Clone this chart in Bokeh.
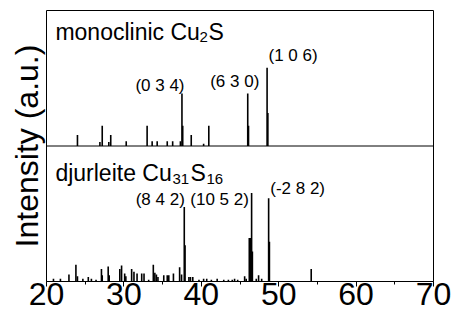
from bokeh.plotting import figure
from bokeh.models import Range1d, Span, ColumnDataSource, FixedTicker
from bokeh.embed import file_html
from bokeh.resources import INLINE
from bokeh.core.properties import value

# monoclinic Cu2S stick pattern (2theta, relative intensity)
mono_pos = [24.0, 26.9, 27.2, 28.05, 28.3, 30.3, 33.0, 33.65, 34.3, 35.6, 36.3,
            37.3, 37.5, 37.6, 38.7, 40.3, 40.97, 46.0, 46.1, 48.5, 48.6]
mono_int = [14, 5, 26, 5, 14, 6, 26, 6, 6, 6, 6,
            6, 67, 26, 14, 3, 26, 67, 26, 100, 42]

# djurleite Cu31S16 stick pattern
djur_pos = [20.9, 21.8, 22.9, 23.8, 24.0, 24.7, 25.4, 25.8, 26.4, 27.1, 27.2,
            27.97, 28.1, 29.47, 29.7, 30.1, 30.25, 31.0, 31.3, 31.7, 32.3, 32.6,
            33.2, 33.8, 34.0, 34.2, 34.4, 35.15, 35.6, 35.8, 36.4, 37.2, 37.45,
            37.8, 37.9, 38.4, 38.6, 38.9, 39.7, 40.3, 40.7, 41.3, 42.05, 42.9,
            43.5, 44.0, 44.3, 44.7, 45.6, 45.8, 46.2, 46.35, 46.5, 46.6, 47.1,
            47.4, 47.8, 48.7, 48.8, 54.2]
djur_int = [3, 3, 8, 19, 6, 3, 5, 3, 2, 14, 7,
            17, 7, 14, 18, 9, 6, 14, 11, 9, 9, 9,
            2, 19, 10, 8, 5, 7, 7, 7, 9, 16, 8,
            84, 41, 5, 5, 5, 2, 3, 3, 2, 3, 2,
            2, 2, 3, 2, 6, 3, 49, 49, 100, 34, 3,
            7, 3, 94, 45, 14]

mono_labels = ["(0 3 4)", "(6 3 0)", "(1 0 6)"]
mono_label_at = [37.5, 46.0, 48.5]
mono_label_int = [67, 67, 100]
djur_labels = ["(8 4 2)", "(10 5 2)", "(-2 8 2)"]
djur_label_at = [37.8, 46.5, 48.7]
djur_label_int = [84, 100, 94]

x_ticks = [20, 30, 40, 50, 60, 70]

MT = 173.0   # half-range of top panel
MB = 153.0   # half-range of bottom panel
FONT = "Liberation Sans"

p = figure(width=453, height=320, x_range=Range1d(20, 70), y_range=Range1d(0, 2 * MB),
           output_backend="svg", toolbar_location=None,
           min_border_left=46, min_border_right=20, min_border_top=10, min_border_bottom=39)
p.extra_y_ranges = {"top": Range1d(-MT, MT)}

p.xgrid.visible = False
p.ygrid.visible = False
p.outline_line_color = "black"
p.outline_line_width = 1
p.background_fill_color = "white"
p.border_fill_color = "white"

bot = ColumnDataSource(dict(x=djur_pos, y=djur_int))
top = ColumnDataSource(dict(x=mono_pos, y=mono_int))
p.segment(x0="x", y0=0, x1="x", y1="y", source=bot, line_color="black", line_width=1.6)
p.segment(x0="x", y0=0, x1="x", y1="y", source=top, line_color="black", line_width=1.6,
          y_range_name="top")

p.add_layout(Span(location=MB, dimension="width", line_color="black", line_width=1))

# x axis
xa = p.xaxis[0]
xa.ticker = FixedTicker(ticks=x_ticks, minor_ticks=[25, 35, 45, 55, 65])
xa.major_label_text_font = FONT
xa.major_label_text_font_size = "32px"
xa.major_label_text_color = "black"
xa.major_tick_in = 0
xa.major_tick_out = 5
xa.minor_tick_in = 0
xa.minor_tick_out = 3
xa.major_label_standoff = -4
xa.axis_line_color = "black"
xa.major_tick_line_color = "black"
xa.minor_tick_line_color = "black"

# y axis: label only
ya = p.yaxis[0]
ya.ticker = FixedTicker(ticks=[])
ya.axis_line_color = None
ya.major_tick_line_color = None
ya.minor_tick_line_color = None
ya.axis_label = "Intensity (a.u.)"
ya.axis_label_text_font = FONT
ya.axis_label_text_font_size = "32px"
ya.axis_label_text_font_style = "normal"
ya.axis_label_text_color = "black"
ya.axis_label_standoff = 2

# peak labels
p.text(x=mono_label_at, y=mono_label_int, text=mono_labels, y_range_name="top",
       x_offset=[-22, -13, 26], y_offset=[-8, -12, -12],
       text_align="center", text_baseline="middle",
       text_font=value(FONT), text_font_size="17px", text_color="black")
p.text(x=djur_label_at, y=djur_label_int, text=djur_labels,
       x_offset=[-24, -32, 29], y_offset=[-8, 7, -10],
       text_align="center", text_baseline="middle",
       text_font=value(FONT), text_font_size="17px", text_color="black")

# panel titles with subscripts
def title(parts, x, y, **kw):
    for txt, dx, dy, size in parts:
        p.text(x=[x], y=[y], text=[txt], x_offset=dx, y_offset=dy,
               text_align="left", text_baseline="alphabetic",
               text_font=value(FONT), text_font_size=size, text_color="black", **kw)

title([("monoclinic Cu", 0, 0, "23px"), ("2", 144, 5, "15px"), ("S", 153, 0, "23px")],
      21.15, 145, y_range_name="top")
title([("djurleite Cu", 0, 0, "23px"), ("31", 117, 6, "15px"), ("S", 135, 0, "23px"),
       ("16", 151, 6, "15px")], 21.15, 122)

open("out.html", "w").write(file_html(p, INLINE))
